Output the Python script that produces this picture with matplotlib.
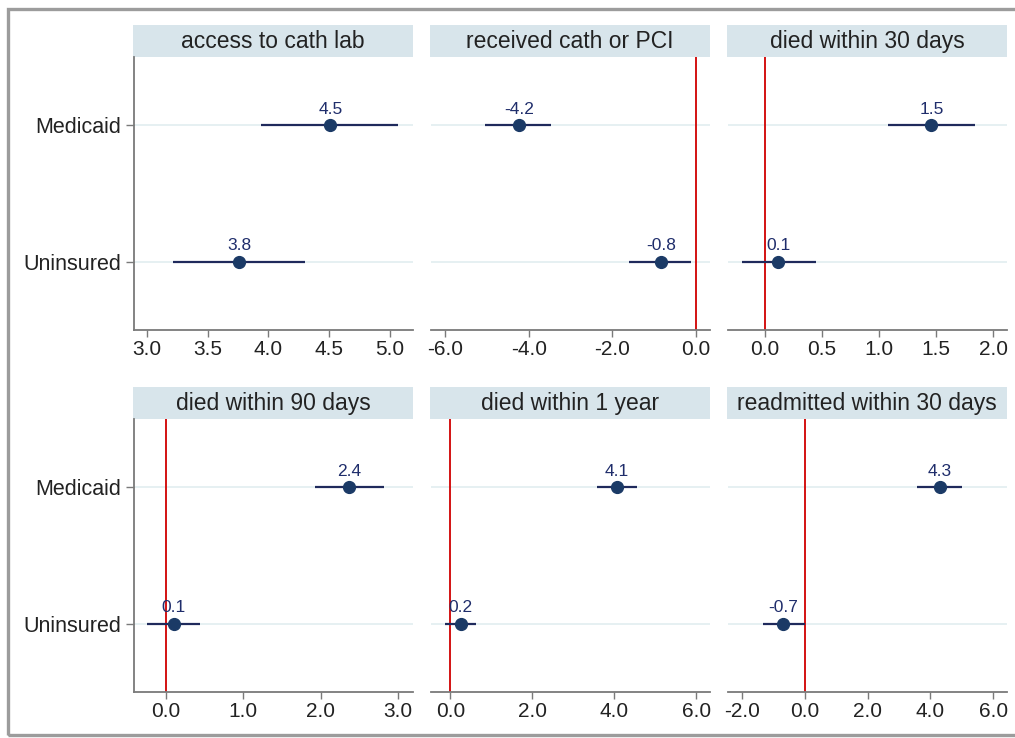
import matplotlib
matplotlib.use("Agg")
import matplotlib.pyplot as plt
from matplotlib.patches import Rectangle

plt.rcParams["font.family"] = ["Liberation Sans", "DejaVu Sans"]

# ---- data
outcomes = [
    "access to cath lab",
    "received cath or PCI",
    "died within 30 days",
    "died within 90 days",
    "died within 1 year",
    "readmitted within 30 days",
]
groups = ["Uninsured", "Medicaid"]

medicaid_est = [4.51, -4.24, 1.46, 2.36, 4.06, 4.30]
medicaid_lo = [3.94, -5.04, 1.08, 1.92, 3.58, 3.58]
medicaid_hi = [5.07, -3.47, 1.84, 2.81, 4.55, 5.00]

uninsured_est = [3.76, -0.84, 0.12, 0.10, 0.25, -0.68]
uninsured_lo = [3.21, -1.60, -0.20, -0.24, -0.13, -1.32]
uninsured_hi = [4.30, -0.11, 0.45, 0.44, 0.63, 0.00]

xticks = [
    [3.0, 3.5, 4.0, 4.5, 5.0],
    [-6.0, -4.0, -2.0, 0.0],
    [0.0, 0.5, 1.0, 1.5, 2.0],
    [0.0, 1.0, 2.0, 3.0],
    [0.0, 2.0, 4.0, 6.0],
    [-2.0, 0.0, 2.0, 4.0, 6.0],
]
xlims = [
    (2.893, 5.19),
    (-6.345, 0.338),
    (-0.322, 2.122),
    (-0.413, 3.19),
    (-0.473, 6.334),
    (-2.446, 6.44),
]

# ---- style
W, H = 1015, 738
strip_color = "#d8e5eb"
point_color = "#1b3a66"
ci_color = "#1f2a5c"
grid_color = "#e2eef0"
spine_color = "#7a7a7a"
text_color = "#222222"

col_x = [(134, 413), (431, 710), (728, 1007)]
row_y = [(25, 57, 330), (387, 419, 692)]  # strip top, axes top, axes bottom


def fig_rect(x0, x1, y0, y1):
    return [x0 / W, 1 - y1 / H, (x1 - x0) / W, (y1 - y0) / H]


fig = plt.figure(figsize=(W / 100, H / 100), dpi=100)

# outer frame
fig.patches.append(
    Rectangle(
        (8 / W, 3 / H), 1.05, (735 - 9) / H,
        transform=fig.transFigure, fill=False,
        edgecolor="#9c9c9c", linewidth=2.4, zorder=0,
    )
)

for i, name in enumerate(outcomes):
    r, c = divmod(i, 3)
    x0, x1 = col_x[c]
    s0, a0, a1 = row_y[r]

    # strip
    sax = fig.add_axes(fig_rect(x0 - 1, x1, s0, a0))
    sax.set_facecolor(strip_color)
    sax.set_xticks([])
    sax.set_yticks([])
    for sp in sax.spines.values():
        sp.set_visible(False)
    sax.text(0.5, 0.47, name, ha="center", va="center", fontsize=16.5,
             color=text_color, transform=sax.transAxes)

    ax = fig.add_axes(fig_rect(x0, x1, a0, a1))
    est = [uninsured_est[i], medicaid_est[i]]
    lo = [uninsured_lo[i], medicaid_lo[i]]
    hi = [uninsured_hi[i], medicaid_hi[i]]
    ypos = [1, 2]

    for y in ypos:
        ax.axhline(y, color=grid_color, linewidth=1.2, zorder=0)

    if xlims[i][0] < 0 < xlims[i][1]:
        ax.axvline(0, color="#d00000", linewidth=1.3, zorder=1)

    ax.hlines(ypos, lo, hi, color=ci_color, linewidth=1.6, zorder=2)
    ax.plot(est, ypos, "o", color=point_color, markersize=8.5, zorder=3)
    for x, y in zip(est, ypos):
        ax.annotate(f"{x:.1f}", xy=(x, y), xytext=(0, 6),
                    textcoords="offset points", ha="center", va="bottom",
                    fontsize=12.5, color="#1f2d6b")

    ax.set_xlim(*xlims[i])
    ax.set_ylim(0.5, 2.5)
    ax.set_xticks(xticks[i])
    ax.set_xticklabels([f"{t:.1f}" for t in xticks[i]])

    for sp in ["top", "right"]:
        ax.spines[sp].set_visible(False)
    ax.spines["bottom"].set_color(spine_color)
    ax.spines["bottom"].set_linewidth(1.3)
    ax.tick_params(axis="x", colors=spine_color, labelcolor=text_color,
                   labelsize=15, length=5, width=1.0, pad=2)

    if c == 0:
        ax.spines["left"].set_color(spine_color)
        ax.spines["left"].set_linewidth(1.3)
        ax.set_yticks(ypos)
        ax.set_yticklabels(groups)
        ax.tick_params(axis="y", colors=spine_color, labelcolor=text_color,
                       labelsize=15.5, length=6, width=1.0, pad=3)
    else:
        ax.spines["left"].set_visible(False)
        ax.set_yticks([])

fig.savefig("out.png", dpi=100)
